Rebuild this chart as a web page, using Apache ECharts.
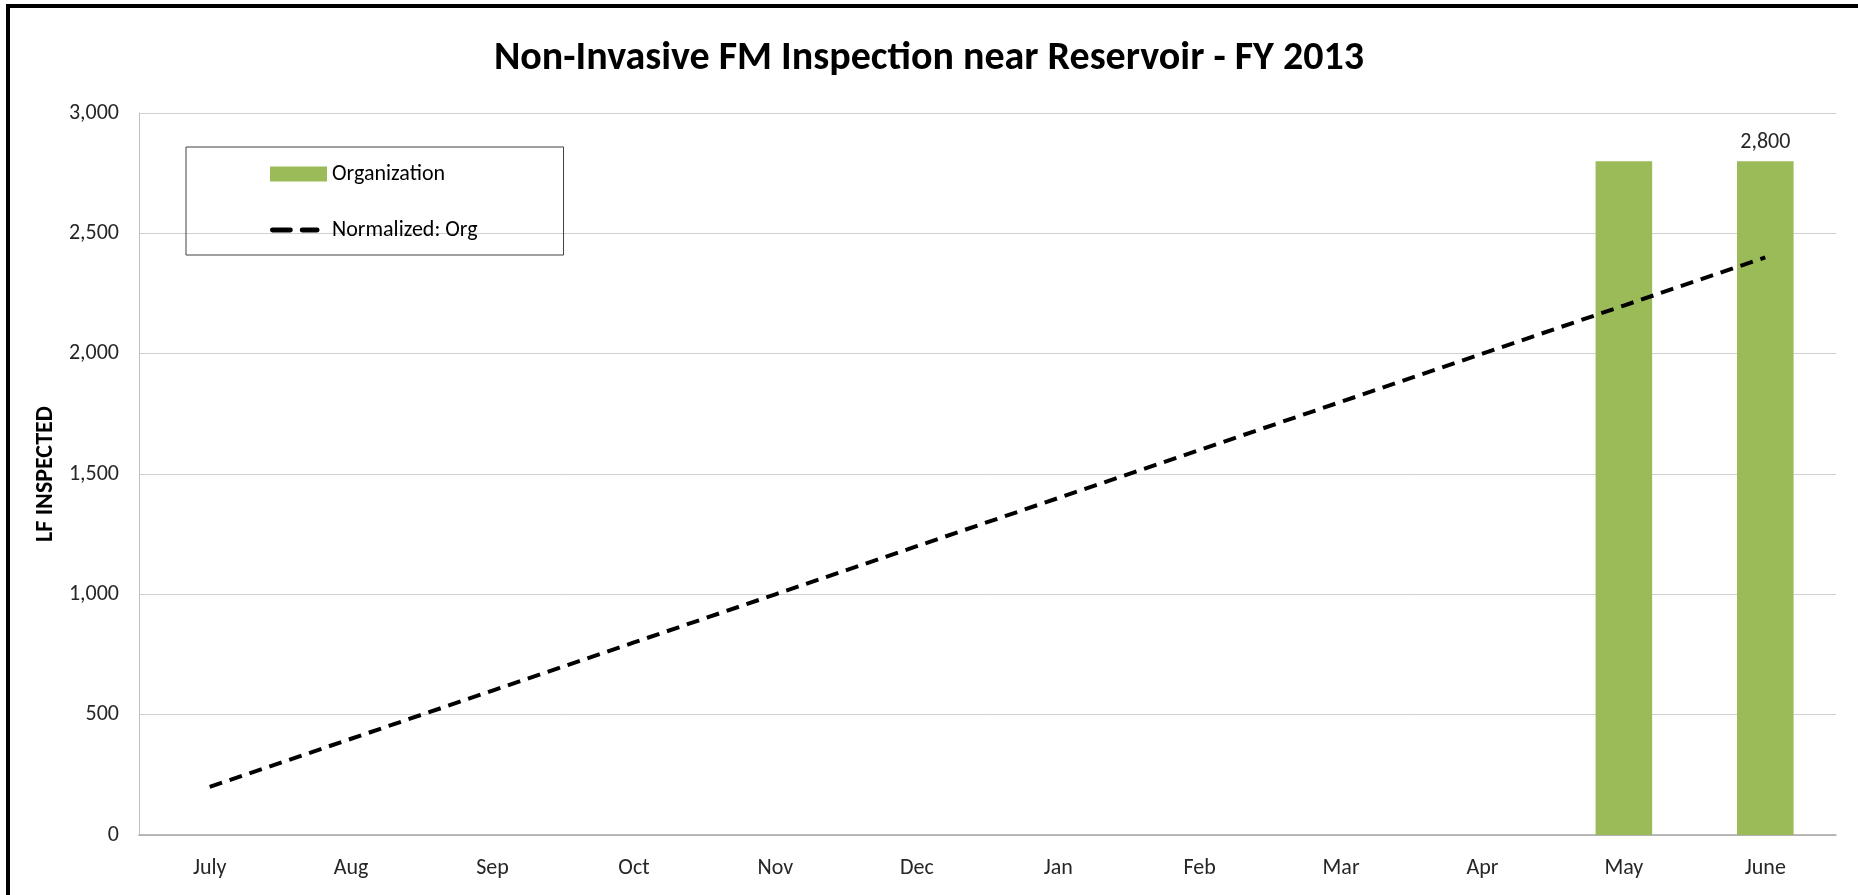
<!DOCTYPE html>
<html>
<head>
<meta charset="utf-8">
<script src="https://cdn.jsdelivr.net/npm/echarts@6/dist/echarts.min.js"></script>
<style>
html,body{margin:0;padding:0;background:#fff;}
#wrap{position:relative;width:1858px;height:895px;overflow:hidden;}
#frame{position:absolute;left:6px;top:4px;width:1900px;height:1000px;border-top:4px solid #000;border-left:4px solid #000;box-sizing:border-box;pointer-events:none;z-index:2;}
#chart{position:absolute;left:0;top:0;width:1858px;height:895px;}
</style>
</head>
<body>
<div id="wrap"><div id="chart"></div><div id="frame"></div></div>
<script>
var titleText = 'Non-Invasive FM Inspection near Reservoir - FY 2013';
var yAxisName = 'LF INSPECTED';
var months = ['July','Aug','Sep','Oct','Nov','Dec','Jan','Feb','Mar','Apr','May','June'];
var orgValues = [null,null,null,null,null,null,null,null,null,null,2800,2800];
var normValues = [200,400,600,800,1000,1200,1400,1600,1800,2000,2200,2400];
var labeledIndex = 11;
var yTicks = {min:0, max:3000, interval:500};

var FONT = "Carlito, 'Open Sans', sans-serif";
var dashIcon = 'path://M2,5h18a2.5,2.5 0 0 1 0,5h-18a2.5,2.5 0 0 1 0,-5z M32,5h15a2.5,2.5 0 0 1 0,5h-15a2.5,2.5 0 0 1 0,-5z M56.9,0h0.1v0.1h-0.1z M56.9,14.9h0.1v0.1h-0.1z';
var chart = echarts.init(document.getElementById('chart'));
var barData = orgValues.map(function(v,i){
  if(i===labeledIndex){return {value:v,label:{show:true,position:'top',distance:8,color:'#262626',fontSize:22,fontFamily:FONT,formatter:function(p){return p.value.toLocaleString('en-US');}}};}
  return v;
});
chart.setOption({
  animation:false,
  title:{text:titleText,left:'center',top:34,textStyle:{fontFamily:FONT,fontWeight:'bold',fontSize:40,color:'#000'}},
  grid:{left:139,right:22,top:113,bottom:60,containLabel:false},
  legend:{
    orient:'vertical',left:186,top:147,
    padding:[16,86,14,84],itemGap:34,
    itemWidth:57,itemHeight:15,
    borderColor:'#404040',borderWidth:1,
    textStyle:{fontFamily:FONT,fontSize:22,color:'#000'},
    data:[{name:'Organization',icon:'rect'},{name:'Normalized: Org',icon:dashIcon,itemStyle:{color:'#000'}}]
  },
  xAxis:{type:'category',data:months,
    axisLine:{lineStyle:{color:'#a6a6a6',width:1.5}},axisTick:{show:false},
    axisLabel:{fontFamily:FONT,fontSize:22,color:'#262626',margin:22}},
  yAxis:{type:'value',min:yTicks.min,max:yTicks.max,interval:yTicks.interval,
    name:yAxisName,nameLocation:'middle',nameGap:80,nameRotate:90,
    nameTextStyle:{fontFamily:FONT,fontWeight:'bold',fontSize:24,color:'#000'},
    axisLine:{show:true,lineStyle:{color:'#bfbfbf',width:1}},axisTick:{show:false},
    splitLine:{lineStyle:{color:'#d0d0d0',width:1}},
    axisLabel:{fontFamily:FONT,fontSize:22,color:'#262626',margin:20,formatter:function(v){return v.toLocaleString('en-US');}}},
  series:[
    {name:'Organization',type:'bar',data:barData,barWidth:'40%',itemStyle:{color:'#9bbb59'}},
    {name:'Normalized: Org',type:'line',data:normValues,symbol:'none',
      lineStyle:{color:'#000',width:4,type:[13,8]},itemStyle:{color:'#000'}}
  ]
});
</script>
</body>
</html>
